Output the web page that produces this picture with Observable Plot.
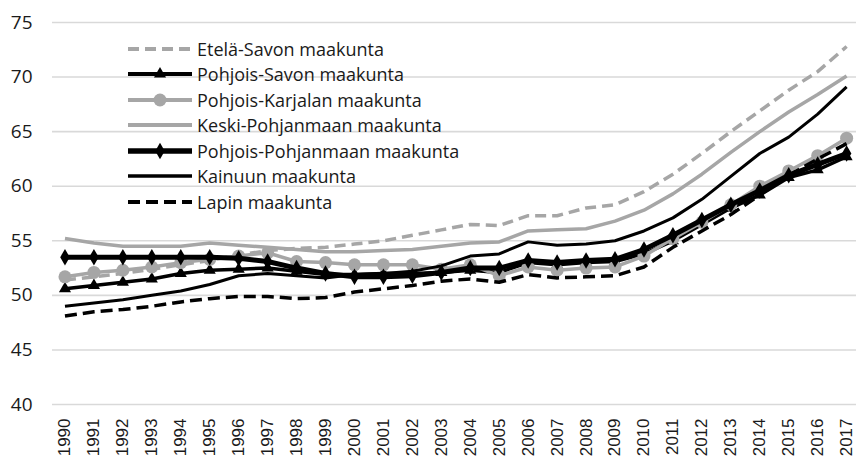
<!DOCTYPE html>
<html>
<head>
<meta charset="utf-8">
<script src="https://cdn.jsdelivr.net/npm/d3@7"></script>
<script src="https://cdn.jsdelivr.net/npm/@observablehq/plot@0.6"></script>
<style>
  html, body { margin: 0; padding: 0; background: #fff; }
  #wrap { position: relative; width: 856px; height: 462px; overflow: hidden; }
  #legend { position: absolute; left: 128px; top: 36px; font-family: "Open Sans", sans-serif; font-size: 18px; color: #1a1a1a; }
  .row { display: flex; align-items: center; height: 25.5px; }
  .row svg { display: block; margin-right: 5px; }
</style>
</head>
<body>
<div id="wrap"><div id="chart"></div><div id="legend"></div></div>
<script>
const years = [1990,1991,1992,1993,1994,1995,1996,1997,1998,1999,2000,2001,2002,2003,2004,2005,2006,2007,2008,2009,2010,2011,2012,2013,2014,2015,2016,2017];
const yTicks = [40,45,50,55,60,65,70,75];

const seriesNames = ["Etelä-Savon maakunta","Pohjois-Savon maakunta","Pohjois-Karjalan maakunta","Keski-Pohjanmaan maakunta","Pohjois-Pohjanmaan maakunta","Kainuun maakunta","Lapin maakunta"];

const etelaSavo = [51.4,51.7,52.0,52.4,52.8,53.2,53.7,54.1,54.3,54.4,54.7,55.0,55.5,56.0,56.5,56.4,57.3,57.3,58.0,58.3,59.5,61.1,63.0,65.0,66.9,68.8,70.5,72.8];
const pohjoisSavo = [50.6,50.9,51.2,51.5,52.0,52.3,52.4,52.5,52.2,51.9,51.9,52.0,52.0,52.1,52.3,52.1,53.0,52.8,53.0,53.1,53.8,55.0,56.5,58.0,59.2,60.8,61.5,62.7];
const pohjoisKarjala = [51.7,52.1,52.3,52.6,53.0,53.3,53.6,53.9,53.1,53.0,52.8,52.8,52.8,52.4,52.8,51.8,52.6,52.3,52.5,52.6,53.6,55.2,56.7,58.3,60.0,61.4,62.8,64.4];
const keskiPohjanmaa = [55.2,54.8,54.5,54.5,54.5,54.8,54.6,54.4,54.2,54.0,54.0,54.1,54.2,54.5,54.8,54.9,55.9,56.0,56.1,56.8,57.8,59.3,61.1,63.1,65.0,66.8,68.4,70.1];
const pohjoisPohjanmaa = [53.5,53.5,53.5,53.5,53.5,53.5,53.4,53.1,52.5,52.0,51.7,51.7,51.8,52.1,52.5,52.5,53.2,53.0,53.2,53.3,54.2,55.5,56.9,58.3,59.6,61.0,62.0,63.0];
const kainuu = [49.0,49.3,49.6,50.0,50.4,51.0,51.8,52.0,51.8,51.6,51.9,52.0,52.2,52.7,53.6,53.8,54.9,54.6,54.7,55.0,55.9,57.1,58.8,60.9,63.0,64.5,66.6,69.1];
const lappi = [48.1,48.5,48.7,49.0,49.4,49.7,49.9,49.9,49.7,49.8,50.3,50.6,50.9,51.3,51.5,51.2,51.9,51.6,51.7,51.8,52.6,54.4,55.9,57.4,59.2,61.0,62.5,63.9];

const values = [etelaSavo, pohjoisSavo, pohjoisKarjala, keskiPohjanmaa, pohjoisPohjanmaa, kainuu, lappi];

const GRAY = "#a6a6a6", BLACK = "#000";
const styles = [
  {stroke: GRAY, width: 3.5, dash: "11,6", symbol: null},
  {stroke: BLACK, width: 3.5, dash: null, symbol: "triangle", r: 4.5},
  {stroke: GRAY, width: 3.5, dash: null, symbol: "circle", r: 6.5},
  {stroke: GRAY, width: 3.5, dash: null, symbol: null},
  {stroke: BLACK, width: 5, dash: null, symbol: "diamond", r: 5},
  {stroke: BLACK, width: 3, dash: null, symbol: null},
  {stroke: BLACK, width: 3.5, dash: "12,6", symbol: null}
];

const marks = [
  Plot.ruleY(yTicks, {stroke: "#d9d9d9", strokeWidth: 1.6})
];
seriesNames.forEach((name, i) => {
  const data = years.map((y, j) => ({year: y, value: values[i][j], series: name}));
  const s = styles[i];
  marks.push(Plot.line(data, {x: "year", y: "value", stroke: s.stroke, strokeWidth: s.width,
    strokeDasharray: s.dash || undefined, strokeLinejoin: "round", strokeLinecap: "butt"}));
  if (s.symbol) {
    marks.push(Plot.dot(data, {x: "year", y: "value", symbol: () => s.symbol, fill: s.stroke, stroke: "none", r: s.r}));
  }
});

marks.push(Plot.axisY({ticks: yTicks, tickSize: 0, tickPadding: 20, fontSize: 19, fontFamily: "Open Sans", label: null}));
marks.push(Plot.axisX({ticks: years, tickFormat: d => String(d), tickRotate: -90, tickSize: 0, tickPadding: 14, fontSize: 17, fontFamily: "Liberation Sans", label: null}));

const chart = Plot.plot({
  width: 856,
  height: 462,
  marginLeft: 52,
  marginRight: 0,
  marginTop: 22,
  marginBottom: 58,
  style: {color: "#1a1a1a", background: "#fff", overflow: "visible"},
  x: {type: "linear", domain: [1989.5, 2017.5], range: [50, 50 + 28 * 28.95]},
  y: {domain: [40, 75]},
  marks
});
document.getElementById("chart").appendChild(chart);

// legend
const legend = d3.select("#legend");
seriesNames.forEach((name, i) => {
  const s = styles[i];
  const row = legend.append("div").attr("class", "row");
  const svg = row.append("svg").attr("width", 64).attr("height", 20);
  svg.append("line").attr("x1", 0).attr("x2", 64).attr("y1", 10).attr("y2", 10)
    .attr("stroke", s.stroke).attr("stroke-width", s.width + 0.5)
    .attr("stroke-dasharray", s.dash ? s.dash : null);
  if (s.symbol) {
    const sym = {triangle: d3.symbolTriangle, circle: d3.symbolCircle, diamond: d3.symbolDiamond}[s.symbol];
    svg.append("path").attr("transform", "translate(32,10)")
      .attr("d", d3.symbol(sym, Math.PI * s.r * s.r)()).attr("fill", s.stroke);
  }
  row.append("span").text(name);
});
</script>
</body>
</html>
